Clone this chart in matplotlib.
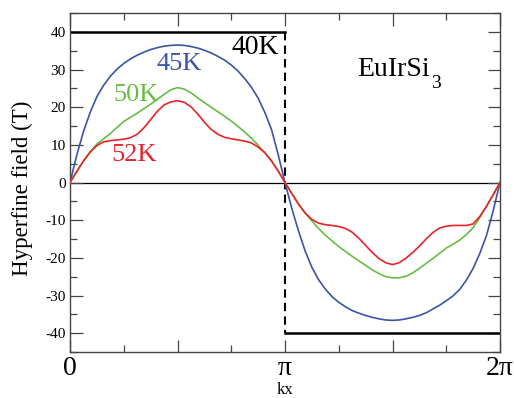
import numpy as np
import matplotlib
matplotlib.use("Agg")
import matplotlib.pyplot as plt
from matplotlib.ticker import MultipleLocator

plt.rcParams['font.family'] = ['Liberation Serif', 'DejaVu Serif']
plt.rcParams['axes.unicode_minus'] = False

# kx sampled every pi/32 over one full period
kx_frac = np.arange(65) / 32.0
kx = kx_frac * np.pi

field_45K = [0, 7.2, 13.5, 18.6, 22.8, 25.8, 28.2, 30.1, 31.6, 32.8, 33.8, 34.6, 35.3, 35.8, 36.2, 36.4,
             36.5, 36.4, 36.1, 35.7, 35.1, 34.4, 33.5, 32.5, 31.2, 29.6, 27.6, 25.3, 22.4, 18.6, 14.0, 7.3,
             0, -6.8, -12.8, -18.2, -22.5, -25.8, -28.3, -30.3, -31.8, -33.0, -34.0, -34.7, -35.3, -35.8, -36.2, -36.5,
             -36.6, -36.5, -36.2, -35.8, -35.3, -34.6, -33.6, -32.6, -31.4, -30.1, -28.4, -25.9, -22.8, -18.8, -14.0, -7.4,
             0]
field_50K = [0, 2.9, 5.7, 8.1, 10.2, 11.6, 13.0, 14.6, 16.2, 17.3, 18.4, 19.6, 20.8, 22.1, 23.4, 24.6,
             25.2, 24.8, 23.8, 22.5, 21.2, 20.0, 18.8, 17.6, 16.3, 14.9, 13.4, 11.8, 9.9, 7.9, 5.7, 3.0,
             0, -2.9, -5.7, -8.1, -10.2, -12.2, -14.0, -15.5, -17.0, -18.3, -19.6, -20.8, -22.0, -23.2, -24.2, -25.0,
             -25.3, -25.3, -24.9, -24.0, -22.8, -21.5, -20.2, -18.8, -17.4, -16.4, -15.3, -13.8, -12.0, -9.3, -6.3, -3.2,
             0]
field_52K = [0, 2.9, 5.7, 8.1, 9.8, 10.8, 11.1, 11.3, 11.5, 11.9, 12.8, 14.5, 16.7, 18.9, 20.6, 21.4,
             21.7, 21.3, 20.1, 18.2, 16.0, 14.1, 12.8, 12.0, 11.6, 11.3, 11.0, 10.5, 9.4, 7.9, 5.7, 3.0,
             0, -2.9, -5.7, -8.1, -9.8, -10.8, -11.2, -11.4, -11.7, -12.2, -13.2, -14.8, -16.7, -18.6, -20.2, -21.3,
             -21.8, -21.3, -20.1, -18.6, -16.9, -15.0, -13.3, -12.1, -11.6, -11.4, -11.4, -11.4, -11.0, -9.0, -6.3, -3.2,
             0]

# 40K: square-wave field
step_x = [0, np.pi, np.pi, 2 * np.pi]
step_y = [40, 40, -40, -40]

xtick_pos = [0, np.pi / 2, np.pi, 1.5 * np.pi, 2 * np.pi]
xtick_labels = ['0', '', 'π', '', '2π']
ytick_pos = [-40, -30, -20, -10, 0, 10, 20, 30, 40]
ytick_labels = ['-40', '-30', '-20', '-10', '0', '10', '20', '30', '40']

c_blue = '#3b54a8'
c_green = '#66bd45'
c_red = '#e8232a'

fig = plt.figure(figsize=(5.14, 3.98), dpi=100)
ax = fig.add_axes([70 / 514, 1 - 352 / 398, 430 / 514, 339 / 398])

ax.axhline(0, color='black', lw=0.9, zorder=1)
ax.plot(step_x[:2], step_y[:2], color='black', lw=1.8, zorder=2)
ax.plot(step_x[2:], step_y[2:], color='black', lw=1.8, zorder=2)
ax.plot(step_x[1:3], step_y[1:3], color='black', lw=1.5, ls=(0, (4, 2.5)), zorder=2)

ax.plot(kx, field_45K, color=c_blue, lw=1.2, zorder=3)
ax.plot(kx, field_50K, color=c_green, lw=1.2, zorder=3)
ax.plot(kx, field_52K, color=c_red, lw=1.2, zorder=4)

ax.set_xlim(0, 2 * np.pi)
ax.set_ylim(-45, 45)

ax.set_xticks(xtick_pos, xtick_labels, fontsize=20)
ax.set_xticks([np.pi / 4, 3 * np.pi / 4, 5 * np.pi / 4, 7 * np.pi / 4], minor=True)
ax.set_yticks(ytick_pos, ytick_labels, fontsize=11)
ax.yaxis.set_minor_locator(MultipleLocator(5))

ax.tick_params(which='both', direction='in', top=True, right=True, color='#444444', width=0.9)
ax.tick_params(which='major', length=9)
ax.tick_params(which='minor', length=5)
ax.tick_params(axis='x', which='major', pad=3)
ax.tick_params(axis='y', which='major', pad=3)
for s in ax.spines.values():
    s.set_color('#444444')
    s.set_linewidth(1.0)

ax.text(2.363, 34.2, '40K', fontsize=20, color='black', va='baseline', ha='left')
ax.text(1.267, 29.8, '45K', fontsize=19, color=c_blue, va='baseline', ha='left')
ax.text(0.633, 21.6, '50K', fontsize=19, color=c_green, va='baseline', ha='left')
ax.text(0.609, 5.8, '52K', fontsize=19, color=c_red, va='baseline', ha='left')

# compound name with a lowered subscript placed right after it
formula = ax.text(4.19, 28.2, 'EuIrSi', fontsize=20, color='black', va='baseline', ha='left')
ax.annotate('3', xy=(1, 0), xycoords=formula, xytext=(1, -4),
            textcoords='offset points', fontsize=14, va='baseline', ha='left')

fig.text(22 / 514, 1 - 188 / 398, 'Hyperfine field (T)', rotation=90, fontsize=16.5,
         ha='center', va='center')
fig.text(285 / 514, 1 - 390 / 398, 'kx', fontsize=12, ha='center', va='center')

fig.savefig('out.png', dpi=100)
